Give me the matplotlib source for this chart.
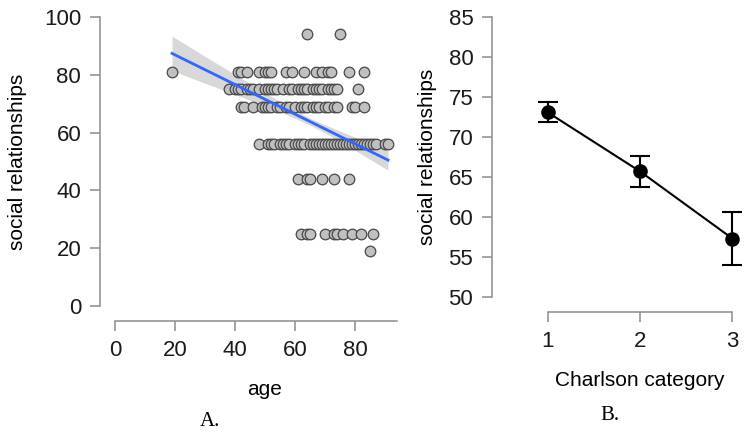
import numpy as np
import matplotlib
matplotlib.use("Agg")
import matplotlib.pyplot as plt

# panel A: scatter of score levels vs age
score_levels = [94, 81, 75, 69, 56, 44, 25, 19]
ages_94 = [64, 75]
ages_81 = [19, 41, 42, 44, 48, 50, 51, 52, 57, 59, 63, 67, 69, 71, 72, 78, 83]
ages_75 = [38, 40, 41, 42, 44, 45, 46, 48, 50, 51, 52, 53, 54, 56, 58, 59, 61,
           62, 63, 64, 66, 67, 68, 69, 71, 72, 73, 74, 81]
ages_69 = [42, 43, 46, 49, 50, 51, 52, 54, 55, 57, 58, 60, 62, 63, 64, 66, 67,
           68, 70, 71, 73, 74, 79, 80, 83]
ages_56 = [48, 51, 52, 53, 55, 56, 57, 58, 60, 61, 62, 63, 65, 66, 67, 68, 69,
           70, 71, 72, 73, 74, 75, 76, 77, 78, 79, 80, 81, 82, 83, 84, 85, 86,
           87, 90, 91]
ages_44 = [61, 64, 65, 69, 73, 78]
ages_25 = [62, 64, 65, 70, 73, 74, 76, 79, 82, 86]
ages_19 = [85]
ages_by_level = [ages_94, ages_81, ages_75, ages_69, ages_56, ages_44, ages_25, ages_19]

# fitted line and its confidence band
fit_age = [19, 91]
fit_value = [87.4, 50.5]
band_age = [19, 30, 40, 50, 60, 65, 70, 80, 91]
band_hi = [93.4, 86.4, 80.1, 73.8, 67.8, 65.0, 62.7, 58.4, 54.0]
band_lo = [81.4, 77.1, 73.2, 69.2, 65.0, 62.6, 59.9, 53.9, 47.0]

# panel B: means with error bars
charlson = [1, 2, 3]
charlson_mean = [73.1, 65.7, 57.3]
charlson_err = [1.25, 1.95, 3.35]

W, H = 750, 433
fig = plt.figure(figsize=(W / 100, H / 100), dpi=100)

sans = "Liberation Sans"
serif = "Liberation Serif"
fs = 15
tfs = 16
off = 15 * 0.72  # spine offset in points (15 px)


def px_axes(x0, x1, y_top, y_bot):
    return fig.add_axes([x0 / W, 1 - y_bot / H, (x1 - x0) / W, (y_bot - y_top) / H])


def style(ax):
    for s in ["top", "right"]:
        ax.spines[s].set_visible(False)
    for s in ["left", "bottom"]:
        ax.spines[s].set_position(("outward", off))
        ax.spines[s].set_color("#8c8c8c")
        ax.spines[s].set_linewidth(1.1)
    ax.tick_params(length=7.5, width=1.1, color="#8c8c8c", labelsize=tfs,
                   labelcolor="#1a1a1a", pad=6)
    for lab in ax.get_xticklabels() + ax.get_yticklabels():
        lab.set_fontfamily(sans)
    ax.patch.set_visible(False)


# ---- panel A
ax1 = px_axes(115, 415, 17, 306)
for lvl, ages in zip(score_levels, ages_by_level):
    ax1.scatter(ages, [lvl] * len(ages), s=58, facecolor="#c0c0c0",
                edgecolor="#474747", linewidth=0.9, zorder=3, clip_on=False)
ax1.fill_between(band_age, band_lo, band_hi, color="#cfcfcf", alpha=0.8,
                 linewidth=0, zorder=2)
ax1.plot(fit_age, fit_value, color="#3366ff", lw=2, zorder=4)
ax1.set_xlim(0, 100)
ax1.set_ylim(0, 100)
ax1.set_xticks([0, 20, 40, 60, 80])
ax1.set_yticks([0, 20, 40, 60, 80, 100])
ax1.spines["bottom"].set_bounds(0, 94)
ax1.spines["left"].set_bounds(0, 100)
style(ax1)
ax1.set_xlabel("age", fontsize=fs, fontfamily=sans, labelpad=14)
ax1.set_ylabel("social relationships", fontsize=fs, fontfamily=sans, labelpad=12)

# ---- panel B
ax2 = px_axes(507, 773, 17, 297)
ax2.errorbar(charlson, charlson_mean, yerr=charlson_err, color="black",
             lw=1.5, marker="o", markersize=9.5, capsize=7.5, capthick=1.5,
             elinewidth=1.5, clip_on=False)
ax2.set_xlim(0.562, 3.438)
ax2.set_ylim(50, 85)
ax2.set_xticks(charlson)
ax2.set_yticks([50, 55, 60, 65, 70, 75, 80, 85])
ax2.spines["bottom"].set_bounds(1, 3)
ax2.spines["left"].set_bounds(50, 85)
style(ax2)
ax2.set_xlabel("Charlson category", fontsize=fs, fontfamily=sans, labelpad=14)
ax2.set_ylabel("social relationships", fontsize=fs, fontfamily=sans, labelpad=8)

fig.text(210 / W, 1 - 421 / H, "A.", fontsize=fs, fontfamily=serif,
         ha="center", va="center")
fig.text(610 / W, 1 - 415 / H, "B.", fontsize=fs, fontfamily=serif,
         ha="center", va="center")

fig.savefig("out.png", dpi=100)
